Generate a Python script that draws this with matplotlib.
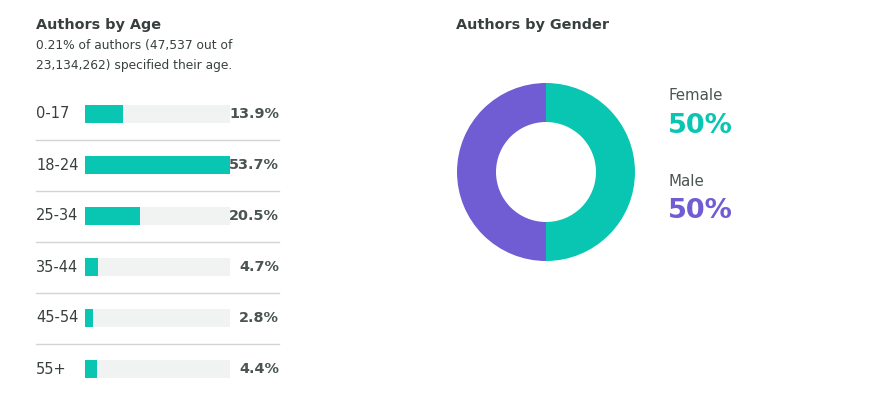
import numpy as np
import matplotlib
matplotlib.use("Agg")
import matplotlib.pyplot as plt
import matplotlib.transforms as mtransforms

plt.rcParams["font.family"] = ["DejaVu Sans"]

# age data
age_groups = ["0-17", "18-24", "25-34", "35-44", "45-54", "55+"]
age_pct = [13.9, 53.7, 20.5, 4.7, 2.8, 4.4]

# gender data
genders = ["Female", "Male"]
gender_pct = [50, 50]

teal = "#08C6B2"
purple = "#705DD4"
track = "#F1F3F3"
dark = "#38403F"
W, H = 889, 394

fig = plt.figure(figsize=(W / 100, H / 100), dpi=100)

def px(x, y):
    # pixel coords (top-left origin) -> figure fraction
    return x / W, 1 - y / H

# titles
fig.text(*px(36, 25), "Authors by Age", fontsize=10.4, fontweight="bold",
         color=dark, va="center")
fig.text(*px(36, 46), "0.21% of authors (47,537 out of", fontsize=8.8,
         color=dark, va="center")
fig.text(*px(36, 65), "23,134,262) specified their age.", fontsize=8.8,
         color=dark, va="center")
fig.text(*px(456, 25), "Authors by Gender", fontsize=10.4, fontweight="bold",
         color=dark, va="center")

# bar chart axes
row_h = 51
top = 114 - row_h / 2
left, right = 85, 230
ax = fig.add_axes([left / W, 1 - (top + row_h * len(age_groups)) / H,
                   (right - left) / W, row_h * len(age_groups) / H])
y = np.arange(len(age_groups))
mx = max(age_pct)
bh = 18 / row_h
ax.barh(y, [mx] * len(y), height=bh, color=track, zorder=1)
ax.barh(y, age_pct, height=bh, color=teal, zorder=2)
ax.set_xlim(0, mx)
ax.set_ylim(len(age_groups) - 0.5, -0.5)
ax.axis("off")

trans = mtransforms.blended_transform_factory(ax.transAxes, ax.transData)
lx = (36 - left) / (right - left)
rx = (279 - left) / (right - left)
for i, (g, p) in enumerate(zip(age_groups, age_pct)):
    ax.text(lx, i, g, transform=trans, fontsize=10.5, color=dark,
            va="center", ha="left", clip_on=False)
    ax.text(rx, i, f"{p}%", transform=trans, fontsize=10.4, color="#4A5453",
            fontweight="bold", va="center", ha="right", clip_on=False, zorder=3)
    if i < len(age_groups) - 1:
        ax.plot([lx, rx], [i + 0.5, i + 0.5], transform=trans, color="#D3D5D5",
                lw=1, clip_on=False)

# donut chart
cx, cy, r = 546, 172, 89
pax = fig.add_axes([(cx - r) / W, 1 - (cy + r) / H, 2 * r / W, 2 * r / H])
pax.pie(gender_pct, colors=[teal, purple], startangle=90, counterclock=False,
        wedgeprops=dict(width=39 / 89, edgecolor="none"), radius=1)
pax.set_xlim(-1, 1)
pax.set_ylim(-1, 1)
pax.set_aspect("equal")

colors = [teal, purple]
for i, (g, p) in enumerate(zip(genders, gender_pct)):
    fig.text(*px(669, 96 + 86 * i), g, fontsize=10.8, color="#4A5453", va="center")
    fig.text(*px(668, 126 + 85 * i), f"{p}%", fontsize=19.5, fontweight="bold",
             color=colors[i], va="center")

fig.savefig("out.png", dpi=100)
